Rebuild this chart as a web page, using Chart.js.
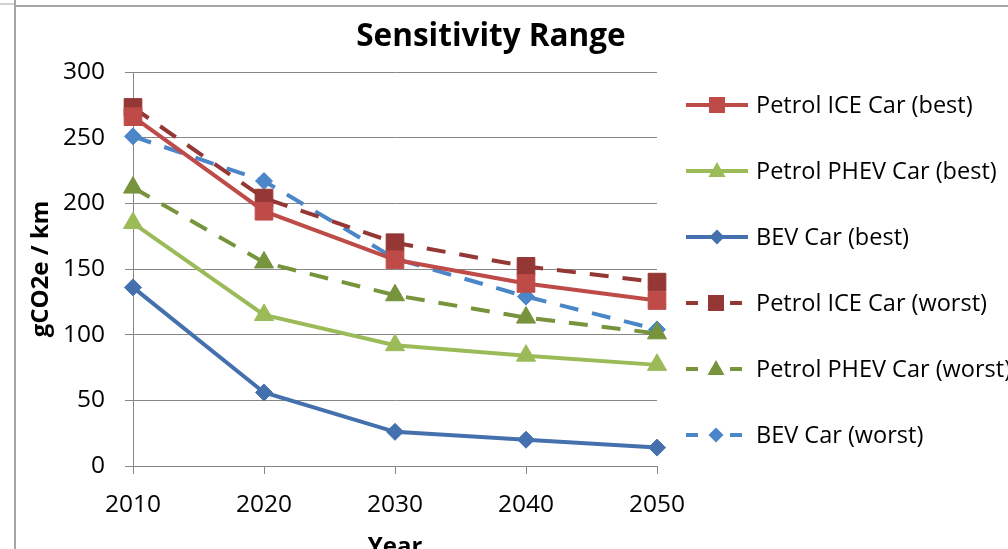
<!DOCTYPE html>
<html>
<head>
<meta charset="utf-8">
<script src="https://cdn.jsdelivr.net/npm/chart.js@4/dist/chart.umd.min.js"></script>
<style>
  html, body { margin: 0; padding: 0; background: #ffffff; }
  #wrap { width: 1008px; height: 549px; position: relative; }
</style>
</head>
<body>
<div id="wrap"><canvas id="chart"></canvas></div>
<script>
// Data
const years = ['2010', '2020', '2030', '2040', '2050'];
const yTicks = [0, 50, 100, 150, 200, 250, 300];

const iceBest = [266, 194, 157, 139, 126];
const phevBest = [185, 115, 92, 84, 77];
const bevBest = [136, 56, 26, 20, 14];
const iceWorst = [273, 204, 170, 152, 140];
const phevWorst = [212, 155, 130, 113, 101];
const bevWorst = [251, 217, 158, 129, 104];

const FONT = "'Open Sans', 'Liberation Sans', sans-serif";
const DASH = [19, 14];

function series(label, data, color, style, radius, dashed) {
    return {
        label: label,
        data: data,
        borderColor: color,
        backgroundColor: color,
        borderWidth: 4,
        borderDash: dashed ? DASH : [],
        borderCapStyle: 'butt',
        pointStyle: style,
        pointRadius: radius,
        pointHoverRadius: radius,
        pointBackgroundColor: color,
        pointBorderColor: color,
        pointBorderWidth: 1,
        tension: 0,
        clip: false
    };
}

// draws a marker shape for the legend (small version of the chart markers)
function drawMarker(ctx, style, x, y, color) {
    ctx.save();
    ctx.fillStyle = color;
    ctx.beginPath();
    if (style === 'rect') {
        ctx.rect(x - 8, y - 8, 16, 16);
    } else if (style === 'triangle') {
        ctx.moveTo(x, y - 9);
        ctx.lineTo(x + 8.5, y + 6);
        ctx.lineTo(x - 8.5, y + 6);
        ctx.closePath();
    } else {
        ctx.moveTo(x, y - 7.5);
        ctx.lineTo(x + 7.5, y);
        ctx.lineTo(x, y + 7.5);
        ctx.lineTo(x - 7.5, y);
        ctx.closePath();
    }
    ctx.fill();
    ctx.restore();
}

const frameAndLegend = {
    id: 'frameAndLegend',
    beforeDraw(chart) {
        const ctx = chart.ctx;
        ctx.save();
        ctx.strokeStyle = '#a6a6a6';
        ctx.lineWidth = 2;
        ctx.beginPath();
        ctx.moveTo(15, 0); ctx.lineTo(15, 549);
        ctx.moveTo(16, 6); ctx.lineTo(1008, 6);
        ctx.stroke();
        ctx.lineWidth = 1;
        ctx.beginPath();
        ctx.moveTo(0, 4); ctx.lineTo(14, 4);
        ctx.stroke();
        ctx.restore();
    },
    afterDraw(chart) {
        const ctx = chart.ctx;
        ctx.save();
        // title
        ctx.fillStyle = '#000000';
        ctx.font = "bold 31.5px " + FONT;
        ctx.textAlign = 'center';
        ctx.textBaseline = 'middle';
        ctx.fillText('Sensitivity Range', 491, 37);

        // legend
        ctx.font = "23.5px " + FONT;
        ctx.textAlign = 'left';
        chart.data.datasets.forEach(function(ds, i) {
            const y = 105 + i * 66;
            const dashed = ds.borderDash && ds.borderDash.length > 0;
            ctx.strokeStyle = ds.borderColor;
            ctx.lineWidth = 4;
            ctx.lineCap = 'butt';
            ctx.beginPath();
            if (dashed) {
                ctx.moveTo(686, y); ctx.lineTo(698, y);
                ctx.moveTo(730, y); ctx.lineTo(742, y);
            } else {
                ctx.moveTo(686, y); ctx.lineTo(748, y);
            }
            ctx.stroke();
            drawMarker(ctx, ds.pointStyle, dashed ? 716 : 717, y, ds.borderColor);
            ctx.fillStyle = '#000000';
            ctx.fillText(ds.label, 756, y + 1);
        });
        ctx.restore();
    }
};

new Chart(document.getElementById('chart'), {
    type: 'line',
    data: {
        labels: years,
        datasets: [
            series('Petrol ICE Car (best)', iceBest, '#be4b48', 'rect', 12.5, false),
            series('Petrol PHEV Car (best)', phevBest, '#9bbb59', 'triangle', 11, false),
            series('BEV Car (best)', bevBest, '#4470ad', 'rectRot', 8.5, false),
            series('Petrol ICE Car (worst)', iceWorst, '#953735', 'rect', 12.5, true),
            series('Petrol PHEV Car (worst)', phevWorst, '#77933c', 'triangle', 11, true),
            series('BEV Car (worst)', bevWorst, '#4a86c8', 'rectRot', 8.5, true)
        ]
    },
    options: {
        responsive: true,
        maintainAspectRatio: false,
        animation: false,
        events: [],
        layout: { padding: { left: 15, right: 351, top: 72, bottom: 0 } },
        plugins: {
            legend: { display: false },
            title: { display: false },
            tooltip: { enabled: false }
        },
        scales: {
            x: {
                offset: false,
                afterFit: function(scale) { scale.height = 83; },
                grid: {
                    drawOnChartArea: false,
                    drawTicks: true,
                    tickLength: 8,
                    color: '#868686'
                },
                border: { color: '#868686', width: 1 },
                ticks: {
                    color: '#000000',
                    padding: 16,
                    maxRotation: 0,
                    font: { family: FONT, size: 24.5 }
                },
                title: {
                    display: true,
                    text: 'Year',
                    color: '#000000',
                    font: { family: FONT, size: 24, weight: 'bold' },
                    padding: { top: 0, bottom: -13 }
                }
            },
            y: {
                min: 0,
                max: 300,
                afterFit: function(scale) { scale.width = 118; },
                afterBuildTicks: function(scale) {
                    scale.ticks = yTicks.map(function(v) { return { value: v }; });
                },
                grid: {
                    color: '#868686',
                    drawTicks: true,
                    tickLength: 8
                },
                border: { color: '#868686', width: 1 },
                ticks: {
                    color: '#000000',
                    padding: 20,
                    font: { family: FONT, size: 24.5 }
                },
                title: {
                    display: true,
                    text: 'gCO2e / km',
                    color: '#000000',
                    font: { family: FONT, size: 24, weight: 'bold' },
                    padding: { top: 12, bottom: 0 }
                }
            }
        }
    },
    plugins: [frameAndLegend]
});
</script>
</body>
</html>
